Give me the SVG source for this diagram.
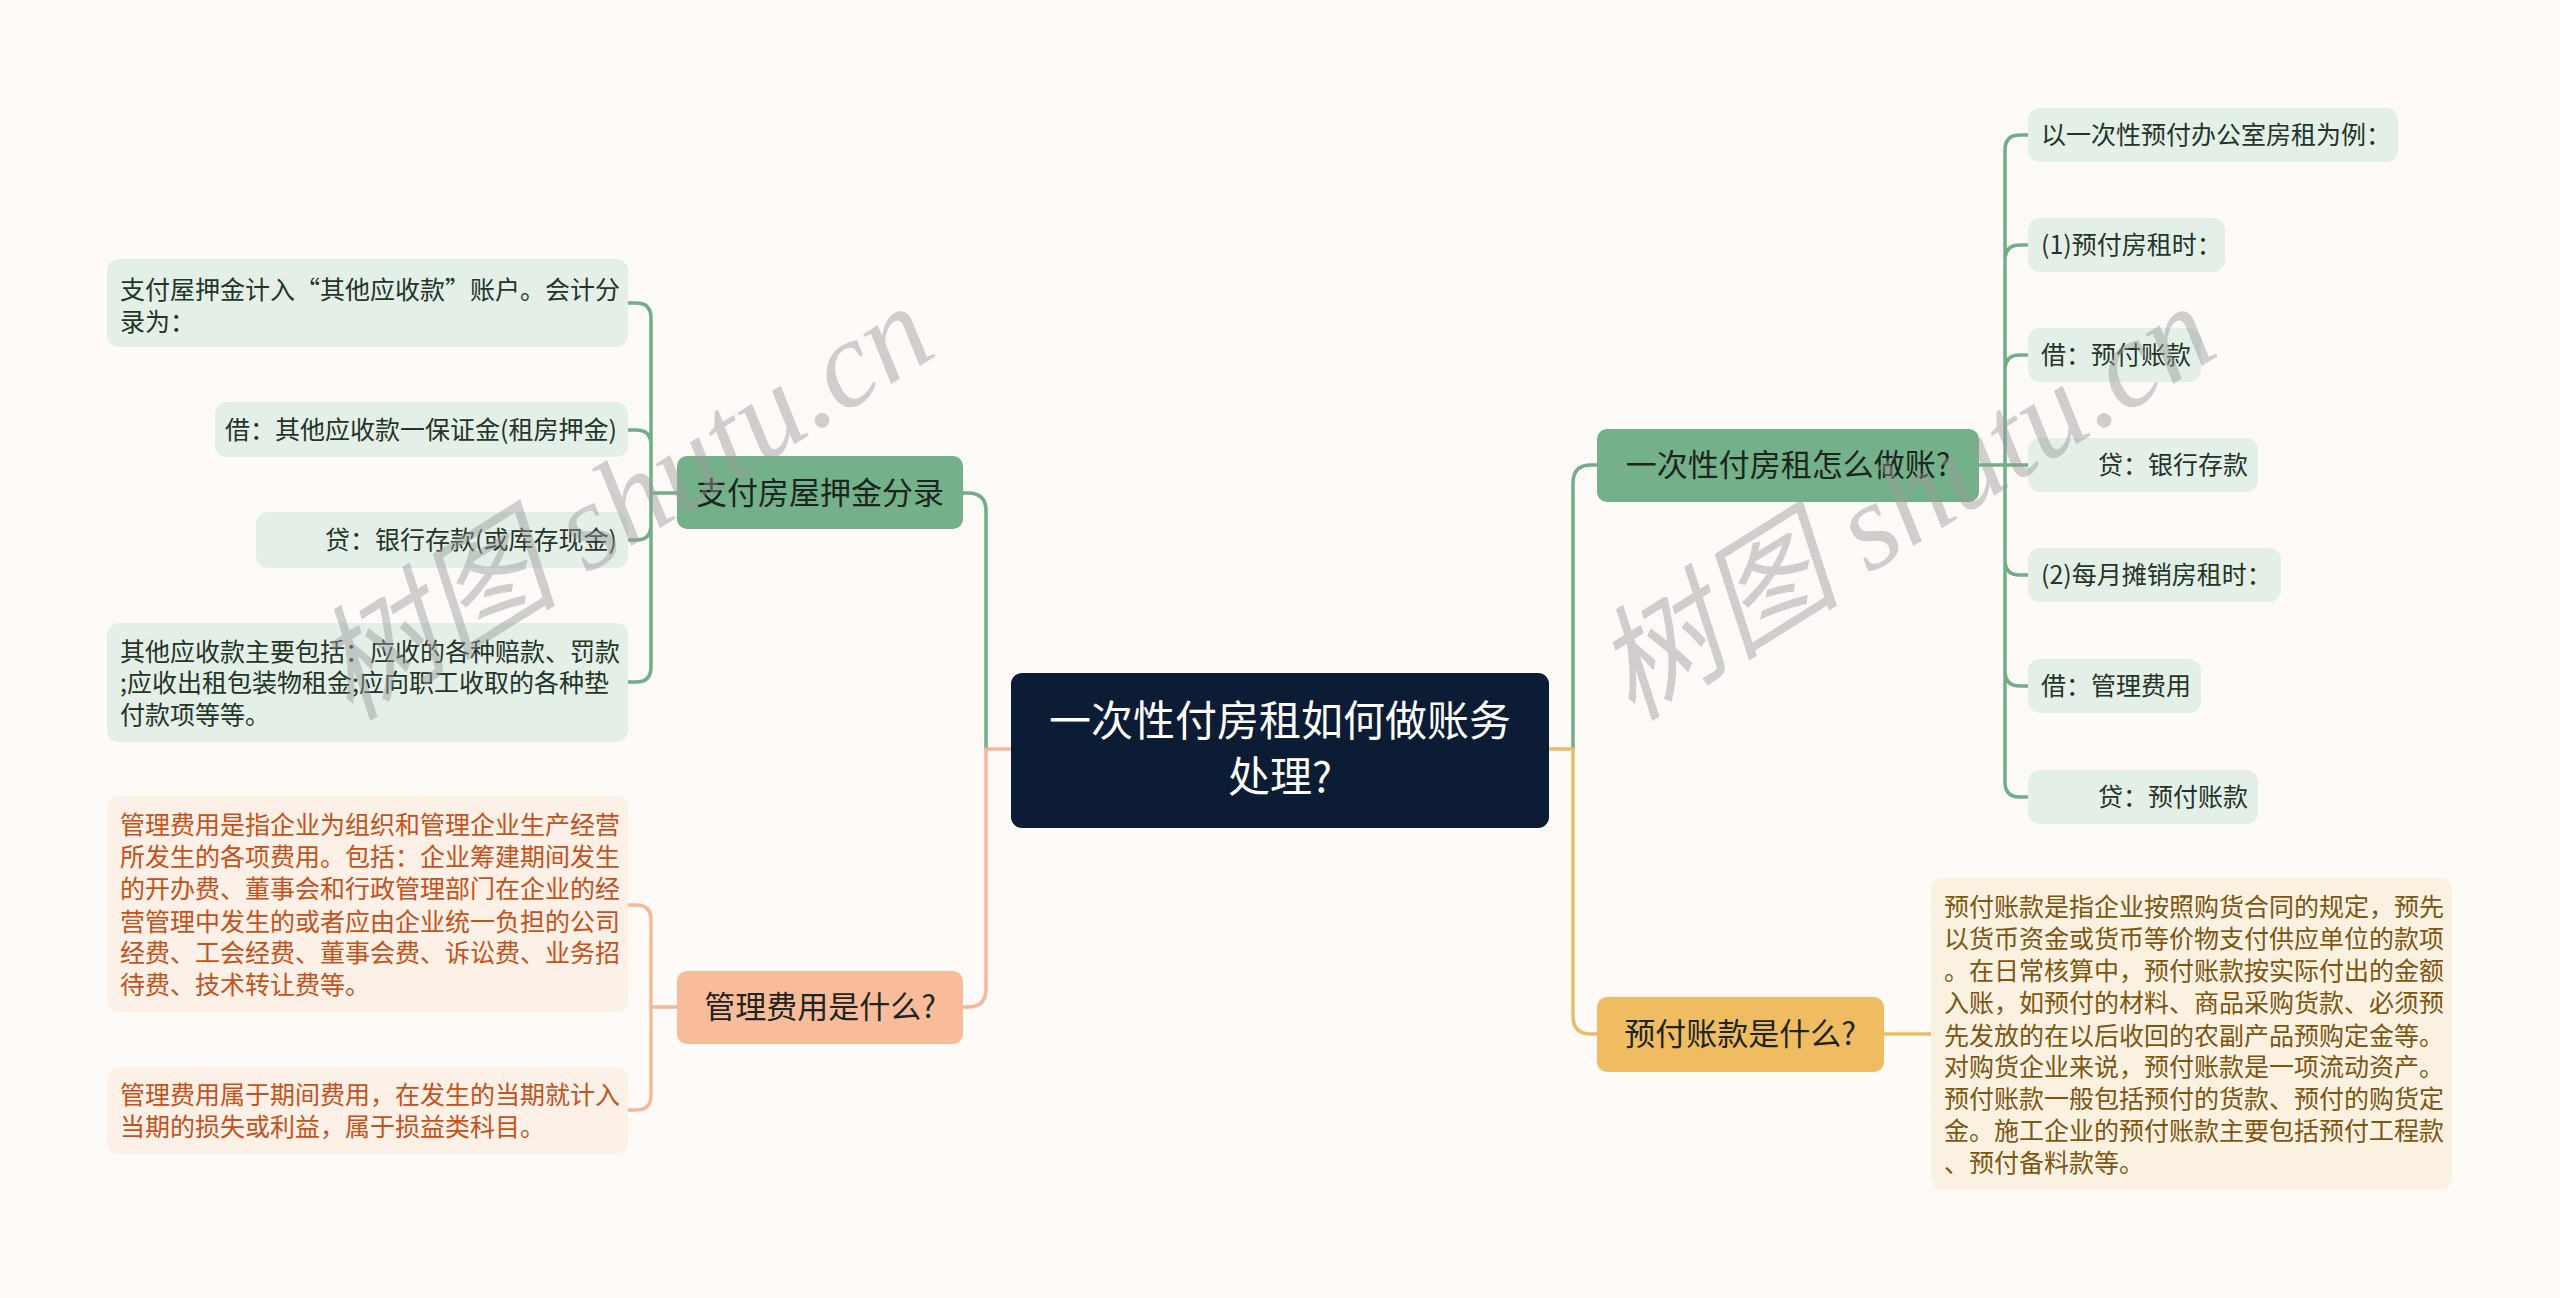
<svg xmlns="http://www.w3.org/2000/svg" width="2560" height="1298" viewBox="0 0 2560 1298">
<style>
text{font-family:"Noto Sans CJK SC","Noto Sans",sans-serif;}
.c{fill:none;stroke-width:3.5;stroke-linecap:round}
.g{stroke:#71ae87}.s{stroke:#f5b999}.y{stroke:#e9bd68}
.gc rect{fill:#e3efe7}.gc text{fill:#243428;font-size:25px}
.sc rect{fill:#fdf0e7}.sc text{fill:#c5521b;font-size:25px}
.yc rect{fill:#fbf1e1}.yc text{fill:#7e5511;font-size:25px}
.br text{font-size:31px;text-anchor:middle;fill:#1d2520}
.wm{font-family:"Liberation Serif","Noto Sans CJK SC",serif;font-style:italic;font-size:124px;fill:#9a9a9a;opacity:0.45}
</style>
<rect width="2560" height="1298" fill="#fefaf8"/>
<g id="connectors">
<path class="c s" d="M1011 749H986"/>
<path class="c g" d="M986 749V511Q986 493 968 493H963"/>
<path class="c s" d="M986 749V989Q986 1007 968 1007H963"/>
<path class="c g" d="M1573 749V483Q1573 465 1591 465H1597"/>
<path class="c y" d="M1573 749V1016Q1573 1034 1591 1034H1597"/>
<path class="c y" d="M1549 749H1573"/>
<path class="c y" d="M1884 1034H1931"/>
<path class="c g" d="M677 493H651M651 493V318Q651 303 636 303H628M651 493V445Q651 430 636 430H628M651 493V525Q651 540 636 540H628M651 493V667Q651 682 636 682H628"/>
<path class="c s" d="M677 1007H651M651 1007V920Q651 905 636 905H628M651 1007V1095Q651 1110 636 1110H628"/>
<path class="c g" d="M1979 465H2028M2005 465V150Q2005 135 2020 135H2028M2005 465V260Q2005 245 2020 245H2028M2005 465V370Q2005 355 2020 355H2028M2005 465V560Q2005 575 2020 575H2028M2005 465V671Q2005 686 2020 686H2028M2005 465V782Q2005 797 2020 797H2028"/>
</g>
<g id="root">
<rect x="1011" y="673" width="538" height="155" rx="11" fill="#0c1c35"/>
<text x="1280" y="736" font-size="42" fill="#ffffff" text-anchor="middle">一次性付房租如何做账务</text>
<text x="1280" y="792" font-size="42" fill="#ffffff" text-anchor="middle">处理?</text>
</g>
<g id="b1" class="br">
<rect x="677" y="456" width="286" height="73" rx="10" fill="#74b18a"/>
<text x="820" y="504">支付房屋押金分录</text>
</g>
<g id="b2" class="br">
<rect x="677" y="971" width="286" height="73" rx="10" fill="#f9bc9b"/>
<text x="820" y="1018">管理费用是什么?</text>
</g>
<g id="b3" class="br">
<rect x="1597" y="429" width="382" height="73" rx="10" fill="#74b18a"/>
<text x="1788" y="476">一次性付房租怎么做账?</text>
</g>
<g id="b4" class="br">
<rect x="1597" y="997" width="287" height="75" rx="10" fill="#f0bc62"/>
<text x="1740" y="1045">预付账款是什么?</text>
</g>
<g id="l1" class="gc">
<rect x="107" y="259" width="521" height="88" rx="12"/>
<text x="120" y="299">支付屋押金计入“其他应收款”账户。会计分</text>
<text x="120" y="331">录为：</text>
</g>
<g id="l2" class="gc">
<rect x="215" y="402" width="413" height="55" rx="12"/>
<text x="617" y="439" text-anchor="end">借：其他应收款一保证金(租房押金)</text>
</g>
<g id="l3" class="gc">
<rect x="256" y="512" width="372" height="56" rx="12"/>
<text x="617" y="549" text-anchor="end">贷：银行存款(或库存现金)</text>
</g>
<g id="l4" class="gc">
<rect x="107" y="623" width="521" height="119" rx="12"/>
<text x="120" y="661">其他应收款主要包括：应收的各种赔款、罚款</text>
<text x="120" y="692">;应收出租包装物租金;应向职工收取的各种垫</text>
<text x="120" y="724">付款项等等。</text>
</g>
<g id="m1" class="sc">
<rect x="107" y="796" width="521" height="216" rx="12"/>
<text x="120" y="834">管理费用是指企业为组织和管理企业生产经营</text>
<text x="120" y="866">所发生的各项费用。包括：企业筹建期间发生</text>
<text x="120" y="898">的开办费、董事会和行政管理部门在企业的经</text>
<text x="120" y="931">营管理中发生的或者应由企业统一负担的公司</text>
<text x="120" y="962">经费、工会经费、董事会费、诉讼费、业务招</text>
<text x="120" y="994">待费、技术转让费等。</text>
</g>
<g id="m2" class="sc">
<rect x="107" y="1067" width="521" height="87" rx="12"/>
<text x="120" y="1104">管理费用属于期间费用，在发生的当期就计入</text>
<text x="120" y="1136">当期的损失或利益，属于损益类科目。</text>
</g>
<g id="r1" class="gc">
<rect x="2028" y="108" width="370" height="54" rx="12"/>
<text x="2041" y="144">以一次性预付办公室房租为例：</text>
</g>
<g id="r2" class="gc">
<rect x="2028" y="218" width="197" height="54" rx="12"/>
<text x="2041" y="254">(1)预付房租时：</text>
</g>
<g id="r3" class="gc">
<rect x="2028" y="328" width="173" height="54" rx="12"/>
<text x="2041" y="364">借：预付账款</text>
</g>
<g id="r4" class="gc">
<rect x="2028" y="438" width="230" height="54" rx="12"/>
<text x="2098" y="474">贷：银行存款</text>
</g>
<g id="r5" class="gc">
<rect x="2028" y="548" width="253" height="54" rx="12"/>
<text x="2041" y="584">(2)每月摊销房租时：</text>
</g>
<g id="r6" class="gc">
<rect x="2028" y="659" width="173" height="54" rx="12"/>
<text x="2041" y="695">借：管理费用</text>
</g>
<g id="r7" class="gc">
<rect x="2028" y="770" width="230" height="54" rx="12"/>
<text x="2098" y="806">贷：预付账款</text>
</g>
<g id="y1" class="yc">
<rect x="1931" y="878" width="521" height="312" rx="12"/>
<text x="1944" y="916">预付账款是指企业按照购货合同的规定，预先</text>
<text x="1944" y="948">以货币资金或货币等价物支付供应单位的款项</text>
<text x="1944" y="980">。在日常核算中，预付账款按实际付出的金额</text>
<text x="1944" y="1012">入账，如预付的材料、商品采购货款、必须预</text>
<text x="1944" y="1045">先发放的在以后收回的农副产品预购定金等。</text>
<text x="1944" y="1076">对购货企业来说，预付账款是一项流动资产。</text>
<text x="1944" y="1108">预付账款一般包括预付的货款、预付的购货定</text>
<text x="1944" y="1140">金。施工企业的预付账款主要包括预付工程款</text>
<text x="1944" y="1172">、预付备料款等。</text>
</g>
<g id="watermark">
<text class="wm" transform="translate(350 722) rotate(-32)">树图 shutu.cn</text>
<text class="wm" transform="translate(1632 722) rotate(-32)">树图 shutu.cn</text>
</g>
</svg>
